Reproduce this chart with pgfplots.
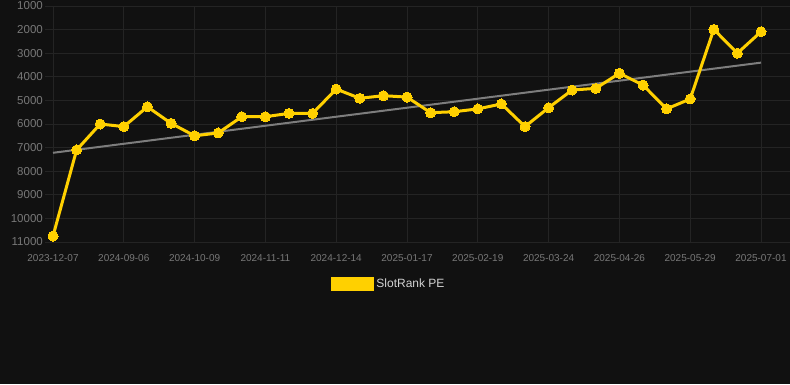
\documentclass[border=0pt]{standalone}
\usepackage{pgfplots}
\pgfplotsset{compat=1.18}
\usepackage{fontspec}
\setmainfont{Liberation Sans}
\definecolor{bg}{RGB}{17,17,17}
\definecolor{gridc}{RGB}{36,36,36}
\definecolor{tickc}{RGB}{120,120,120}
\definecolor{gold}{RGB}{255,208,0}
\definecolor{trendc}{RGB}{125,125,125}
\definecolor{legc}{RGB}{210,210,210}
\begin{document}
\begin{tikzpicture}[x=1pt,y=1pt]
\fill[bg] (0,0) rectangle (790,384);
\path[use as bounding box] (0,0) rectangle (790,384);
\begin{axis}[
  at={(417.5pt,260pt)}, anchor=center,
  scale only axis, width=745pt, height=236pt,
  xmin=-0.339, xmax=31.229, ymin=1000, ymax=11000,
  y dir=reverse,
  axis line style={draw=none},
  major tick length=0pt,
  xtick={0,3,...,30},
  xticklabels={2023-12-07,2024-09-06,2024-10-09,2024-11-11,2024-12-14,2025-01-17,2025-02-19,2025-03-24,2025-04-26,2025-05-29,2025-07-01},
  ytick={1000,2000,...,11000},
  yticklabels={1000,2000,3000,4000,5000,6000,7000,8000,9000,10000,11000},
  grid=major,
  major grid style={draw=gridc, line width=1pt},
  xticklabel style={text=tickc, font=\fontsize{10}{12}\selectfont, inner sep=0pt, anchor=north, yshift=-12pt},
  yticklabel style={text=tickc, font=\fontsize{11.5}{13}\selectfont, inner sep=0pt, anchor=east, xshift=-2pt},
  clip=false,
  legend style={at={(0.4617,-0.178)}, anchor=center, draw=none, fill=none, text=legc, font=\fontsize{12}{14}\selectfont},
]
\addplot[trendc, line width=2pt, forget plot] coordinates {(0,7220) (30,3400)};
\addplot[gold, line width=3pt, mark=*, mark size=5pt, mark options={fill=gold, draw=gold, line width=0pt},
  legend image code/.code={\fill[gold] (0pt,-5.5pt) rectangle (40pt,5.5pt);}]
coordinates {
(0,10750) (1,7100) (2,6000) (3,6110) (4,5270) (5,5970) (6,6500) (7,6380)
(8,5690) (9,5690) (10,5550) (11,5550) (12,4520) (13,4910) (14,4800) (15,4860)
(16,5520) (17,5480) (18,5360) (19,5150) (20,6110) (21,5310) (22,4560) (23,4490)
(24,3850) (25,4350) (26,5360) (27,4940) (28,1990) (29,3000) (30,2090)
};
\addlegendentry{SlotRank PE}
\end{axis}
\end{tikzpicture}
\end{document}
